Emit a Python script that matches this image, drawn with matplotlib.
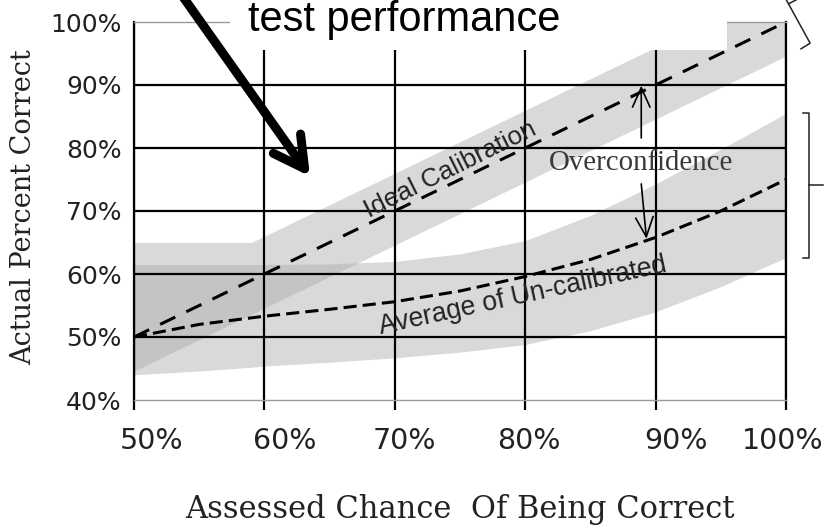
import matplotlib
matplotlib.use("Agg")
import matplotlib.pyplot as plt
from matplotlib.patches import Rectangle
from matplotlib.lines import Line2D
from matplotlib.transforms import ScaledTranslation, blended_transform_factory

# ---------------- data ----------------
x_ticks = [50, 60, 70, 80, 90, 100]
x_ticklabels = ["50%", "60%", "70%", "80%", "90%", "100%"]
y_ticks = [40, 50, 60, 70, 80, 90, 100]
y_ticklabels = ["40%", "50%", "60%", "70%", "80%", "90%", "100%"]

ideal_x = [50, 100]
ideal_y = [50, 100]

uncal_x = [50, 55, 60, 65, 70, 75, 80, 85, 90, 95, 100]
uncal_y = [50.0, 52.0, 53.3, 54.4, 55.6, 57.3, 59.6, 62.3, 65.8, 70.0, 75.0]

band_x = [50, 55, 59, 60, 65, 70, 75, 80, 85, 90, 95, 100]
ideal_band_lo = [44.6, 49.6, 53.6, 54.6, 59.6, 64.6, 69.6, 74.6, 79.6, 84.6, 89.6, 94.6]
ideal_band_hi = [65.0, 65.0, 65.0, 66.0, 71.0, 76.0, 81.0, 86.0, 91.0, 96.0, 101.0, 106.0]
uncal_band_lo = [44.0, 44.6, 45.2, 45.4, 46.0, 46.7, 47.6, 48.8, 51.0, 54.0, 58.0, 62.6]
uncal_band_hi = [61.5, 61.5, 61.5, 61.5, 61.6, 62.0, 63.2, 65.3, 69.3, 74.3, 79.8, 85.5]

# annotation anchors (data units)
overconf_x = 88.9
overconf_up = (81.6, 89.9)
overconf_down = (74.3, 65.6)
pointer_from = (52.9, 106.5)
pointer_to = (63.5, 75.5)

# ---------------- figure ----------------
W, H = 825, 525
fig = plt.figure(figsize=(W / 100, H / 100), dpi=100)
ax = fig.add_axes([134 / W, 125 / H, 652 / W, 378 / H])
ax.set_xlim(50, 100)
ax.set_ylim(40, 100)

light = "#d9d9d9"
dark = "#c4c4c4"
ax.fill_between(band_x, uncal_band_lo, uncal_band_hi, color=light, lw=0, zorder=1)
ax.fill_between(band_x, ideal_band_lo, ideal_band_hi, color=light, lw=0, zorder=1)
ov_lo = [max(a, b) for a, b in zip(ideal_band_lo, uncal_band_lo)]
ov_hi = [min(a, b) for a, b in zip(ideal_band_hi, uncal_band_hi)]
ax.fill_between(band_x, ov_lo, ov_hi, where=[l < h for l, h in zip(ov_lo, ov_hi)],
                interpolate=True, color=dark, lw=0, zorder=1.1)

ax.plot(ideal_x, ideal_y, color="black", lw=2.2, dashes=(5.5, 4), zorder=3)
ax.plot(uncal_x, uncal_y, color="black", lw=2.2, dashes=(4.3, 2.0), zorder=3)

# ticks and grid
ax.set_xticks(x_ticks)
ax.set_xticklabels(x_ticklabels)
ax.set_yticks(y_ticks)
ax.set_yticklabels(y_ticklabels)
ax.tick_params(axis="x", direction="out", length=7.2, width=1.6, color="black",
               pad=12, labelsize=20.5, labelcolor="#222222")
ax.tick_params(axis="y", length=0, pad=9, labelsize=18, labelcolor="#222222")
ax.grid(True, color="black", lw=1.6, zorder=1.5)
gl = ax.yaxis.get_gridlines()
gl[0].set_visible(False)
gl[-1].set_visible(False)

for side in ("left", "right"):
    ax.spines[side].set_color("black")
    ax.spines[side].set_linewidth(1.6)
for side in ("top", "bottom"):
    ax.spines[side].set_color("#9a9a9a")
    ax.spines[side].set_linewidth(1.0)

# individual horizontal shifts of x tick labels (as in the original raster)
label_dx = [18, 20, 10, 4, 20, -3]
for lbl, dx in zip(ax.get_xticklabels(), label_dx):
    lbl.set_transform(lbl.get_transform() + ScaledTranslation(dx / 100, 0, fig.dpi_scale_trans))

# axis labels
ax.set_xlabel("Assessed Chance  Of Being Correct", family="DejaVu Serif", fontsize=22, color="#222222")
ax.xaxis.label.set_va("baseline")
ax.xaxis.set_label_coords(0.5, (400 - 518) / 378)
ax.set_ylabel("Actual Percent Correct", family="DejaVu Serif", fontsize=19.5, color="#222222")
ax.yaxis.label.set_va("center")
ax.yaxis.set_label_coords((24 - 134) / 652, (400 - 207) / 378)

# in-chart texts
ax.text(74.5, 75.5, "Ideal Calibration", rotation=26.5, rotation_mode="anchor",
        ha="center", va="baseline", family="Liberation Sans", fontsize=18.8, color="#222222", zorder=4)
ax.text(79.9, 55.4, "Average of Un-calibrated", rotation=12.3, rotation_mode="anchor",
        ha="center", va="baseline", family="Liberation Sans", fontsize=19.2, color="#222222", zorder=4)
ax.text(overconf_x, 76.5, "Overconfidence", ha="center", va="baseline",
        family="Liberation Serif", fontsize=20.8, color="#3a3a3a", zorder=4)

arrow_kw = dict(arrowstyle="->,head_length=1.0,head_width=0.45", lw=1.2, color="black",
                mutation_scale=14, shrinkA=0, shrinkB=0)
ax.annotate("", xy=(overconf_x, overconf_up[1]), xytext=(overconf_x, overconf_up[0]),
            arrowprops=arrow_kw, zorder=4)
ax.annotate("", xy=(overconf_x + 0.4, overconf_down[1]), xytext=(overconf_x, overconf_down[0]),
            arrowprops=arrow_kw, zorder=4)

# brackets on the right
btr = blended_transform_factory(ax.transAxes, ax.transData)
ylo, yhi = uncal_band_lo[-1], uncal_band_hi[-1]
ax.add_line(Line2D([1.026, 1.035, 1.035, 1.026], [yhi, yhi, ylo, ylo], transform=btr,
                   clip_on=False, color="#222222", lw=1.1))
ax.add_line(Line2D([1.035, 1.057], [(ylo + yhi) / 2] * 2, transform=btr,
                   clip_on=False, color="#222222", lw=1.1))
ax.add_line(Line2D([0.992, 1.037, 1.023], [1.085, 0.944, 0.929], transform=ax.transAxes,
                   clip_on=False, color="#222222", lw=1.1))
ax.add_line(Line2D([1.004, 1.017], [1.048, 1.060], transform=ax.transAxes,
                   clip_on=False, color="#222222", lw=1.1))

# white box with the caption fragment at the top
fig.add_artist(Rectangle((230 / W, 1 - 50 / H), (727 - 230) / W, 50 / H,
                         transform=fig.transFigure, facecolor="white", edgecolor="none", zorder=2))
fig.text(248 / W, 1 - 31 / H, "test performance", ha="left", va="baseline",
         family="Liberation Sans", fontsize=30, color="black", zorder=3)

# big pointer arrow
ax.annotate("", xy=pointer_to, xytext=pointer_from,
            arrowprops=dict(arrowstyle="->,head_length=1.1,head_width=0.6", lw=6.5, color="black",
                            mutation_scale=20, shrinkA=0, shrinkB=0),
            annotation_clip=False, zorder=6)

fig.savefig("out.png", dpi=100)
